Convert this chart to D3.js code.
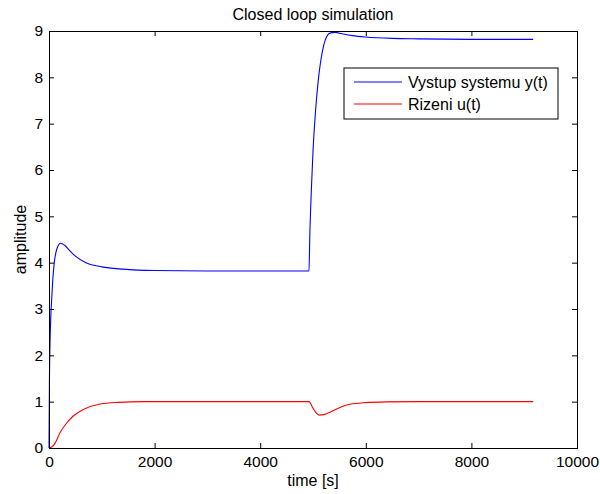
<!DOCTYPE html>
<html>
<head>
<meta charset="utf-8">
<script src="https://cdn.jsdelivr.net/npm/d3@7"></script>
<style>
  body { margin: 0; background: #fff; }
  svg { display: block; }
  text { font-family: "Liberation Sans", Arial, Helvetica, sans-serif; fill: #000; }
</style>
</head>
<body>
<svg id="chart" width="600" height="494"></svg>
<script>
// Closed-loop response: plant output y(t) and control signal u(t)
const outputTime = [0, 8, 20, 35, 50, 70, 100, 150, 220, 300, 400, 500, 700, 1000, 1400, 2000, 3000, 4000, 4924,
                    4940, 4970, 5000, 5050, 5100, 5150, 5200, 5260, 5330, 5420, 5550, 5750, 6000, 6500, 7000, 8000, 9170];
const outputValue = [0, 1.4, 2.3, 2.85, 3.2, 3.6, 4.0, 4.3, 4.42, 4.37, 4.25, 4.14, 4.0, 3.91, 3.86, 3.83, 3.82, 3.82, 3.82,
                     4.6, 5.6, 6.4, 7.3, 7.94, 8.38, 8.68, 8.88, 8.96, 8.97, 8.94, 8.9, 8.87, 8.84, 8.83, 8.82, 8.82];

const controlTime = [0, 50, 114, 208, 335, 461, 650, 966, 1300, 1800, 3000, 4924,
                     5000, 5060, 5120, 5200, 5350, 5500, 5640, 5950, 6400, 7000, 9170];
const controlValue = [0, 0.02, 0.1, 0.33, 0.54, 0.69, 0.83, 0.95, 0.985, 1.0, 1.0, 1.0,
                      0.86, 0.76, 0.71, 0.72, 0.79, 0.87, 0.93, 0.975, 0.995, 1.0, 1.0];

const xTicks = [0, 2000, 4000, 6000, 8000, 10000];
const yTicks = [0, 1, 2, 3, 4, 5, 6, 7, 8, 9];
const seriesNames = ["Vystup systemu y(t)", "Rizeni u(t)"];
const seriesColors = ["#0000ff", "#ff0000"];

const svg = d3.select("#chart");
const margin = { left: 49, right: 23, top: 31, bottom: 46 };
const W = 600, H = 494;
const x = d3.scaleLinear().domain([0, 10000]).range([margin.left, W - margin.right]);
const y = d3.scaleLinear().domain([0, 9]).range([H - margin.bottom, margin.top]);

const series = [
  d3.zip(outputTime, outputValue),
  d3.zip(controlTime, controlValue)
];

const line = d3.line()
  .x(d => x(d[0]))
  .y(d => y(d[1]))
  .curve(d3.curveMonotoneX);

// data lines
series.forEach((s, i) => {
  svg.append("path")
    .datum(s)
    .attr("fill", "none")
    .attr("stroke", seriesColors[i])
    .attr("stroke-width", 1.1)
    .attr("d", line);
});

// axes with inward ticks on all four sides
const tickLen = 5;
const tickFont = 15.5;
const labelFont = 16;
const bottomAxis = d3.axisBottom(x).tickValues(xTicks).tickSize(-tickLen).tickPadding(8).tickFormat(d3.format("d"));
const topAxis = d3.axisTop(x).tickValues(xTicks).tickSize(-tickLen).tickFormat("");
const leftAxis = d3.axisLeft(y).tickValues(yTicks).tickSize(-tickLen).tickPadding(6).tickFormat(d3.format("d"));
const rightAxis = d3.axisRight(y).tickValues(yTicks).tickSize(-tickLen).tickFormat("");

function styleAxis(g) {
  g.select(".domain").attr("stroke", "#000").attr("stroke-width", 1);
  g.selectAll(".tick line").attr("stroke", "#000");
  g.selectAll(".tick text").attr("font-size", tickFont).attr("fill", "#000")
    .attr("font-family", "Liberation Sans, Arial, sans-serif");
}

svg.append("g").attr("transform", `translate(0,${y(0)})`).call(bottomAxis).call(styleAxis);
svg.append("g").attr("transform", `translate(0,${y(9)})`).call(topAxis).call(styleAxis);
svg.append("g").attr("transform", `translate(${x(0)},0)`).call(leftAxis).call(styleAxis);
svg.append("g").attr("transform", `translate(${x(10000)},0)`).call(rightAxis).call(styleAxis);

// titles
svg.append("text")
  .attr("x", (x(0) + x(10000)) / 2).attr("y", 19.5)
  .attr("text-anchor", "middle").attr("font-size", labelFont)
  .text("Closed loop simulation");

svg.append("text")
  .attr("x", (x(0) + x(10000)) / 2).attr("y", 486)
  .attr("text-anchor", "middle").attr("font-size", labelFont)
  .text("time [s]");

svg.append("text")
  .attr("transform", `translate(26,${(y(0) + y(9)) / 2}) rotate(-90)`)
  .attr("text-anchor", "middle").attr("font-size", labelFont)
  .text("amplitude");

// legend
const legend = svg.append("g").attr("transform", "translate(344,68)");
legend.append("rect")
  .attr("width", 214).attr("height", 51)
  .attr("fill", "#fff").attr("stroke", "#000").attr("stroke-width", 1);
seriesNames.forEach((name, i) => {
  const cy = 14 + i * 22;
  legend.append("line")
    .attr("x1", 10).attr("x2", 58).attr("y1", cy).attr("y2", cy)
    .attr("stroke", seriesColors[i]).attr("stroke-width", 1.1);
  legend.append("text")
    .attr("x", 64).attr("y", cy + 6)
    .attr("font-size", labelFont)
    .text(name);
});
</script>
</body>
</html>
